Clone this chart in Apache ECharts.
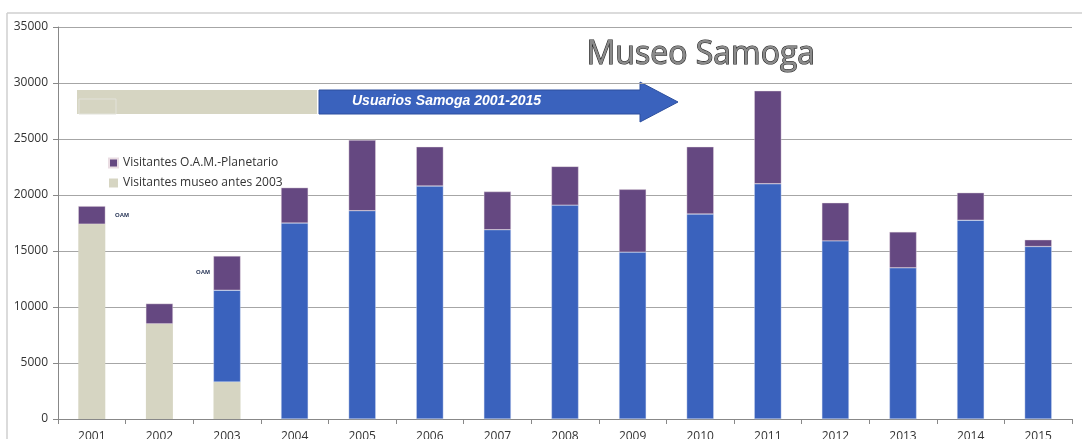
<!DOCTYPE html>
<html>
<head>
<meta charset="utf-8">
<script src="https://cdn.jsdelivr.net/npm/echarts@6/dist/echarts.min.js"></script>
<style>
  html, body { margin: 0; padding: 0; background: #fff; }
  #chart { width: 1082px; height: 439px; }
</style>
</head>
<body>
<div id="chart"></div>
<script>
(function(){
	// datos
	var years = ['2001','2002','2003','2004','2005','2006','2007','2008','2009','2010','2011','2012','2013','2014','2015'];
	var museoAntes = [17400, 8500, 3300, '-', '-', '-', '-', '-', '-', '-', '-', '-', '-', '-', '-'];
	var samoga = ['-', '-', 8200, 17500, 18600, 20800, 16900, 19100, 14900, 18300, 21000, 15900, 13500, 17750, 15400];
	var oamPlanetario = [1600, 1800, 3050, 3150, 6300, 3500, 3400, 3450, 5600, 6000, 8300, 3400, 3200, 2450, 600];
	var yTicks = [0, 5000, 10000, 15000, 20000, 25000, 30000, 35000];

	var cBeige = '#D6D5C2', cBlue = '#3A62BD', cPurple = '#654881';

	var option = {
		backgroundColor: '#fff',
		animation: false,
		grid: { left: 58, right: 10, top: 27, bottom: 20, outerBoundsMode: 'none', containLabel: false },
		legend: {
			orient: 'vertical',
			left: 103,
			top: 152,
			itemWidth: 9,
			itemHeight: 9,
			itemGap: 8,
			icon: 'rect',
			textStyle: { fontFamily: 'Open Sans', fontSize: 12, color: '#333' },
			data: ['Visitantes O.A.M.-Planetario', 'Visitantes museo antes 2003']
		},
		xAxis: {
			type: 'category',
			data: years,
			axisLine: { lineStyle: { color: '#888' } },
			axisTick: { show: true, length: 5, lineStyle: { color: '#888' } },
			axisLabel: { margin: 12, fontFamily: 'Open Sans', fontSize: 12, color: '#333' }
		},
		yAxis: {
			type: 'value',
			min: yTicks[0],
			max: yTicks[yTicks.length - 1],
			interval: 5000,
			axisLine: { show: true, lineStyle: { color: '#888' } },
			axisTick: { show: true, length: 5, lineStyle: { color: '#888' } },
			axisLabel: {
				margin: 10, fontFamily: 'Open Sans', fontSize: 12, color: '#333',
				formatter: function (v) { return String(v); }
			},
			splitLine: { lineStyle: { color: '#a6a6a6', width: 1 } }
		},
		series: [
			{
				name: 'Visitantes museo antes 2003',
				type: 'bar',
				stack: 'total',
				barWidth: 27,
				data: museoAntes,
				itemStyle: { color: cBeige }
			},
			{
				name: 'Visitantes Samoga',
				type: 'bar',
				stack: 'total',
				barWidth: 27,
				data: samoga,
				itemStyle: { color: cBlue, borderColor: '#d5def2', borderWidth: 0.4 }
			},
			{
				name: 'Visitantes O.A.M.-Planetario',
				type: 'bar',
				stack: 'total',
				barWidth: 27,
				data: oamPlanetario,
				itemStyle: { color: cPurple, borderColor: '#eadde3', borderWidth: 0.4 }
			}
		],
		graphic: [
			// marco del grafico original
			{ type: 'line', shape: { x1: 7, y1: 13, x2: 1082, y2: 13 }, style: { stroke: '#cfcfcf', lineWidth: 1.5 } },
			{ type: 'line', shape: { x1: 7, y1: 13, x2: 7, y2: 439 }, style: { stroke: '#cfcfcf', lineWidth: 1.5 } },
			// titulo
			{
				type: 'text', left: 586, top: 38,
				style: {
					text: 'Museo Samoga',
					font: '32px "Open Sans"',
					fill: '#8a8a8a',
					stroke: '#1e1e1e',
					lineWidth: 1.1,
					shadowColor: 'rgba(0,0,0,0.35)',
					shadowBlur: 4
				}
			},
			// barra beige y flecha azul
			{ type: 'rect', shape: { x: 77, y: 90, width: 240, height: 24 }, style: { fill: cBeige } },
			{ type: 'rect', shape: { x: 79, y: 99, width: 37, height: 15 }, style: { fill: 'none', stroke: '#e2e2da', lineWidth: 1 } },
			{
				type: 'polygon',
				shape: { points: [[319, 90], [640, 90], [640, 82], [678, 102], [640, 122], [640, 114], [319, 114]] },
				style: { fill: cBlue, stroke: '#2c4f9e', lineWidth: 1 }
			},
			{
				type: 'text', left: 352, top: 94,
				style: { text: 'Usuarios Samoga 2001-2015', font: 'italic bold 14px "Liberation Sans"', fill: '#fff' }
			},
			// etiquetas OAM
			{ type: 'text', left: 115, top: 212, style: { text: 'OAM', font: 'bold 6px "Liberation Sans"', fill: '#1f2d50' } },
			{ type: 'text', left: 196, top: 269, style: { text: 'OAM', font: 'bold 6px "Liberation Sans"', fill: '#1f2d50' } }
		]
	};

	var chart = echarts.init(document.getElementById('chart'));
	chart.setOption(option);
})();
</script>
</body>
</html>
